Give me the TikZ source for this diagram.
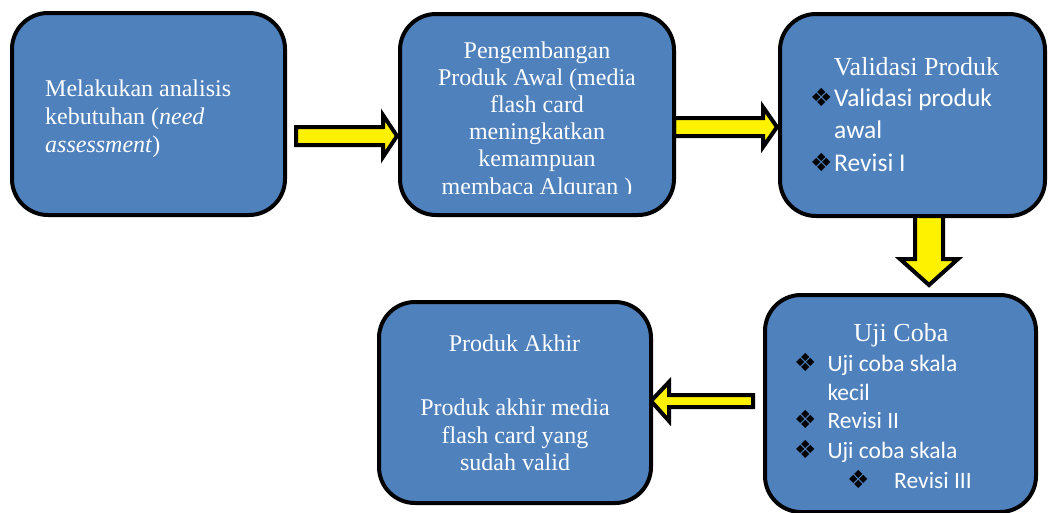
\documentclass[tikz,border=0pt]{standalone}
\usepackage{fontspec}
\setmainfont{Liberation Serif}
\newfontfamily\calibfont{Carlito}
\newfontfamily\symfont{DejaVu Sans}
\definecolor{boxblue}{HTML}{4F81BD}
\begin{document}
\begin{tikzpicture}[x=1pt,y=-1pt,
  box/.style={draw=black, line width=4pt, fill=boxblue, rounded corners=36pt, inner sep=0pt},
  fatarrow/.style={draw=black, line width=4pt, fill=yellow, line join=miter},
  serif/.style={text=white, inner sep=0pt, font=\fontsize{24}{27.6}\selectfont},
  serifbig/.style={text=white, inner sep=0pt, font=\fontsize{26}{30}\selectfont},
  sansA/.style={text=white, inner sep=0pt, anchor=base west, font=\calibfont\fontsize{25.5}{30}\selectfont},
  sansB/.style={text=white, inner sep=0pt, anchor=base west, font=\calibfont\fontsize{23.5}{28}\selectfont},
  bul/.style={text=black, inner sep=0pt, anchor=base west, font=\symfont\fontsize{25}{28}\selectfont}]
\useasboundingbox (0,0) rectangle (1049,512);
\clip (0,0) rectangle (1049,512);

% connectors (fat block arrows)
\coordinate (a1t) at (296,136);
\coordinate (a2t) at (674,127);
\coordinate (a3t) at (929,214);
\coordinate (a4t) at (753,401);
\draw[fatarrow] (296,127) -- (383,127) -- (383,115) -- (397,136) -- (383,157) -- (383,145) -- (296,145) -- cycle;
\draw[fatarrow] (674,118) -- (763,118) -- (763,107) -- (777,127) -- (763,147) -- (763,136) -- (674,136) -- cycle;
\draw[fatarrow] (915,214) -- (915,259) -- (900,259) -- (929,285) -- (958,259) -- (943,259) -- (943,214) -- cycle;
\draw[fatarrow] (753,395) -- (669,395) -- (669,382) -- (651,401) -- (669,421) -- (669,407) -- (753,407) -- cycle;

% boxes
\node[box, minimum width=273pt, minimum height=202pt] (b1) at (148.5,114) {};
\node[box, minimum width=274pt, minimum height=201pt] (b2) at (537,114.5) {};
\node[box, minimum width=265pt, minimum height=202pt] (b3) at (912.5,115) {};
\node[box, minimum width=271pt, minimum height=217pt] (b4) at (900.5,403.5) {};
\node[box, minimum width=272pt, minimum height=201pt] (b5) at (515,402.5) {};

% box 1 text
\node[serif, anchor=base west] (t1a) at (45,96.7) {Melakukan analisis};
\node[serif, anchor=base west] (t1b) at (45,124) {kebutuhan (\textit{need}};
\node[serif, anchor=base west] (t1c) at (45,152) {\textit{assessment})};

% box 2 text
\node[serif, anchor=base] (t2a) at (537,58.3) {Pengembangan};
\node[serif, anchor=base] (t2b) at (537,85.3) {Produk Awal (media};
\node[serif, anchor=base] (t2c) at (537,112.3) {flash card};
\node[serif, anchor=base] (t2d) at (537,139.5) {meningkatkan};
\node[serif, anchor=base] (t2e) at (537,166.7) {kemampuan};
\begin{scope}
\clip (390,0) rectangle (690,193);
\node[serif, anchor=base] (t2f) at (537,194) {membaca Alquran )};
\end{scope}

% box 3 text
\node[serifbig, anchor=base] (t3a) at (916.5,75) {Validasi Produk};
\node[bul] (u3a) at (810,106.7) {❖};
\node[sansA] (t3b) at (834,106.7) {Validasi produk};
\node[sansA] (t3c) at (834,138.5) {awal};
\node[bul] (u3b) at (810,171.7) {❖};
\node[sansA] (t3d) at (834,171.7) {Revisi I};

% box 4 text
\node[serifbig, anchor=base] (t4a) at (901,341.7) {Uji Coba};
\node[bul] (u4a) at (794,371.7) {❖};
\node[sansB] (t4b) at (827.3,371.7) {Uji coba skala};
\node[sansB] (t4c) at (827.3,400) {kecil};
\node[bul] (u4b) at (794,428.3) {❖};
\node[sansB] (t4d) at (827.3,428.3) {Revisi II};
\node[bul] (u4c) at (794,458.3) {❖};
\node[sansB] (t4e) at (827.3,458.3) {Uji coba skala};
\node[bul] (u4d) at (847,488.3) {❖};
\node[sansB] (t4f) at (894,488.3) {Revisi III};

% box 5 text
\node[serif, anchor=base] (t5a) at (514.5,351.7) {Produk Akhir};
\node[serif, anchor=base] (t5b) at (515,415) {Produk akhir media};
\node[serif, anchor=base] (t5c) at (515,443) {flash card yang};
\node[serif, anchor=base] (t5d) at (515,470.5) {sudah valid};
\end{tikzpicture}
\end{document}
